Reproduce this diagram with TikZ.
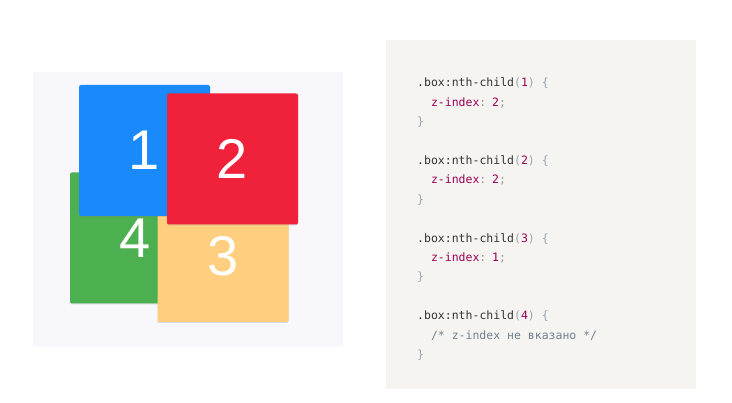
\documentclass[tikz,border=0pt]{standalone}
\usepackage{fontspec}
\setmainfont{Liberation Sans}
\newfontfamily\codefont{DejaVu Sans Mono}
\usetikzlibrary{positioning, chains, shadows}

\definecolor{stagebg}{HTML}{F8F8FC}
\definecolor{codebg}{HTML}{F5F4F0}
\definecolor{cardblue}{HTML}{1A89F9}
\definecolor{cardred}{HTML}{F0213B}
\definecolor{cardgreen}{HTML}{4CAF50}
\definecolor{cardyellow}{HTML}{FFCE7E}
\definecolor{seltext}{HTML}{333333}
\definecolor{punct}{HTML}{9AA4B4}
\definecolor{semi}{HTML}{999999}
\definecolor{propval}{HTML}{990055}
\definecolor{comment}{HTML}{708090}

\newcommand{\indentcode}{\hspace*{13.8pt}}
\newcommand{\sel}[1]{\textcolor{seltext}{.box:nth-child}\textcolor{punct}{(}\textcolor{propval}{#1}\textcolor{punct}{) \{}}
\newcommand{\zidx}[1]{\indentcode\textcolor{propval}{z-index}\textcolor{semi}{: }\textcolor{propval}{#1}\textcolor{semi}{;}}
\newcommand{\closebr}{\textcolor{punct}{\}}}

\tikzset{
	card/.style={minimum width=131pt, minimum height=131pt, inner sep=0pt, rounded corners=2pt,
		text=white, font=\fontsize{56}{56}\selectfont,
		drop shadow={opacity=0.25, shadow xshift=0pt, shadow yshift=-1pt}},
	codeline/.style={on chain=1, inner sep=0pt, text width=220pt, align=left,
		text height=13pt, text depth=6pt, font=\codefont\fontsize{11.5}{11.5}\selectfont,
		execute at begin node={\spaceskip=6.92pt\relax}}
}

\begin{document}
\begin{tikzpicture}[x=1pt, y=-1pt, start chain=1 going below, node distance=0pt]
	\useasboundingbox (0,0) rectangle (732,403);
	\fill[stagebg] (33,72) rectangle (343,347);
	\fill[codebg] (386,40) rectangle (696,389);
	% boxes, bottom first
	\node[card, fill=cardgreen] (four) at (135.5,238) {4};
	\node[card, fill=cardyellow] (three) at (223,256.5) {3};
	\node[card, fill=cardblue] (one) at (144.5,150.5) {1};
	\node[card, fill=cardred] (two) at (232.5,159) {2};
	% css
	\node[codeline, anchor=base west] (l1) at (417,87) {\sel{1}};
	\node[codeline] (l2) {\zidx{2}};
	\node[codeline] (l3) {\closebr};
	\node[codeline] (l4) {};
	\node[codeline] (l5) {\sel{2}};
	\node[codeline] (l6) {\zidx{2}};
	\node[codeline] (l7) {\closebr};
	\node[codeline] (l8) {};
	\node[codeline] (l9) {\sel{3}};
	\node[codeline] (l10) {\zidx{1}};
	\node[codeline] (l11) {\closebr};
	\node[codeline] (l12) {};
	\node[codeline] (l13) {\sel{4}};
	\node[codeline] (l14) {\indentcode\textcolor{comment}{/* z-index не вказано */}};
	\node[codeline] (l15) {\closebr};
\end{tikzpicture}
\end{document}
